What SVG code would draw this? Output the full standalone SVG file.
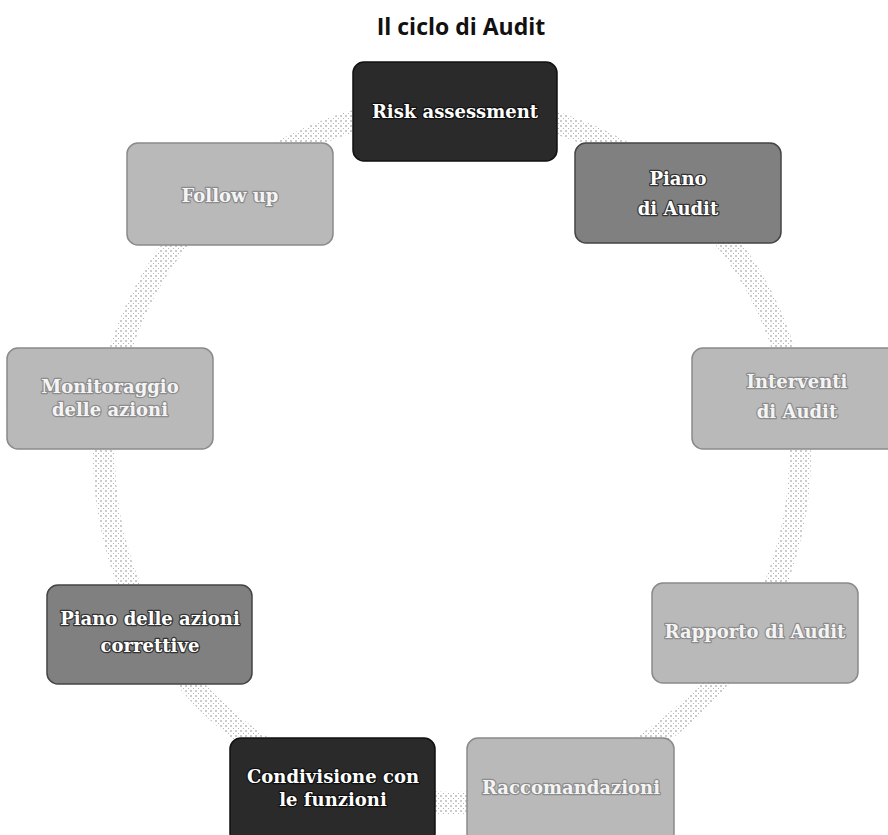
<svg xmlns="http://www.w3.org/2000/svg" width="888" height="835" viewBox="0 0 888 835">
  <defs>
    <pattern id="dots" width="5" height="5" patternUnits="userSpaceOnUse">
      <circle cx="1" cy="1" r="0.8" fill="#8a8a8a"/>
      <circle cx="3.5" cy="3.5" r="0.6" fill="#a8a8a8"/>
    </pattern>
    <style>
      .title { font-family: "Open Sans", "Liberation Sans", sans-serif; font-weight: bold; font-size: 23px; fill: #111; text-anchor: middle; }
      .conn { fill: none; stroke: url(#dots); stroke-width: 22; }
      .box { stroke-width: 1.5; }
      .dark { fill: #2a2a2a; stroke: #111; }
      .mid { fill: #808080; stroke: #444; }
      .light { fill: #b9b9b9; stroke: #8a8a8a; }
      .lbl { font-family: "DejaVu Serif", "Liberation Serif", serif; font-weight: bold; font-size: 18px; text-anchor: middle; fill: #fff; paint-order: stroke; stroke-width: 2.5; stroke-linejoin: round; }
      .lbl-dark { stroke: #111; }
      .lbl-mid { stroke: #333; }
      .lbl-light { stroke: #8c8c8c; fill: #f4f4f4; }
    </style>
  </defs>
  <rect width="888" height="835" fill="#fff"/>
  <text class="title" x="461" y="35">Il ciclo di Audit</text>

  <g id="connectors">
    <path class="conn" d="M452,107 A348,348 0 0 1 680.3,192.3"/>
    <path class="conn" d="M680.3,192.3 A348,348 0 0 1 795.3,398.2"/>
    <path class="conn" d="M795.3,398.2 A348,348 0 0 1 752.2,631.1"/>
    <path class="conn" d="M752.2,631.1 A348,348 0 0 1 569.9,782.4"/>
    <path class="conn" d="M569.9,782.4 A348,348 0 0 1 334.1,782.4"/>
    <path class="conn" d="M334.1,782.4 A348,348 0 0 1 152.8,632.7"/>
    <path class="conn" d="M152.8,632.7 A348,348 0 0 1 108.9,397"/>
    <path class="conn" d="M108.9,397 A348,348 0 0 1 226.5,190"/>
    <path class="conn" d="M226.5,190 A348,348 0 0 1 452,107"/>
  </g>

  <g id="risk-assessment">
    <rect class="box dark" x="353" y="62" width="204" height="99" rx="11"/>
    <text class="lbl lbl-dark" x="455" y="118">Risk assessment</text>
  </g>
  <g id="piano-di-audit">
    <rect class="box mid" x="575" y="143" width="206" height="100" rx="11"/>
    <text class="lbl lbl-mid" x="678" y="185">Piano</text>
    <text class="lbl lbl-mid" x="678" y="215">di Audit</text>
  </g>
  <g id="interventi-di-audit">
    <rect class="box light" x="692" y="348" width="206" height="101" rx="11"/>
    <text class="lbl lbl-light" x="797" y="388">Interventi</text>
    <text class="lbl lbl-light" x="797" y="418">di Audit</text>
  </g>
  <g id="rapporto-di-audit">
    <rect class="box light" x="652" y="583" width="206" height="100" rx="11"/>
    <text class="lbl lbl-light" x="755" y="638">Rapporto di Audit</text>
  </g>
  <g id="raccomandazioni">
    <rect class="box light" x="467" y="738" width="207" height="106" rx="11"/>
    <text class="lbl lbl-light" x="571" y="794">Raccomandazioni</text>
  </g>
  <g id="condivisione">
    <rect class="box dark" x="230" y="738" width="205" height="106" rx="11"/>
    <text class="lbl lbl-dark" x="333" y="783">Condivisione con</text>
    <text class="lbl lbl-dark" x="333" y="806">le funzioni</text>
  </g>
  <g id="piano-azioni-correttive">
    <rect class="box mid" x="47" y="585" width="205" height="99" rx="11"/>
    <text class="lbl lbl-mid" x="150" y="625">Piano delle azioni</text>
    <text class="lbl lbl-mid" x="150" y="652">correttive</text>
  </g>
  <g id="monitoraggio">
    <rect class="box light" x="7" y="348" width="206" height="101" rx="11"/>
    <text class="lbl lbl-light" x="110" y="393">Monitoraggio</text>
    <text class="lbl lbl-light" x="110" y="416">delle azioni</text>
  </g>
  <g id="follow-up">
    <rect class="box light" x="127" y="143" width="206" height="102" rx="11"/>
    <text class="lbl lbl-light" x="230" y="202">Follow up</text>
  </g>
</svg>
